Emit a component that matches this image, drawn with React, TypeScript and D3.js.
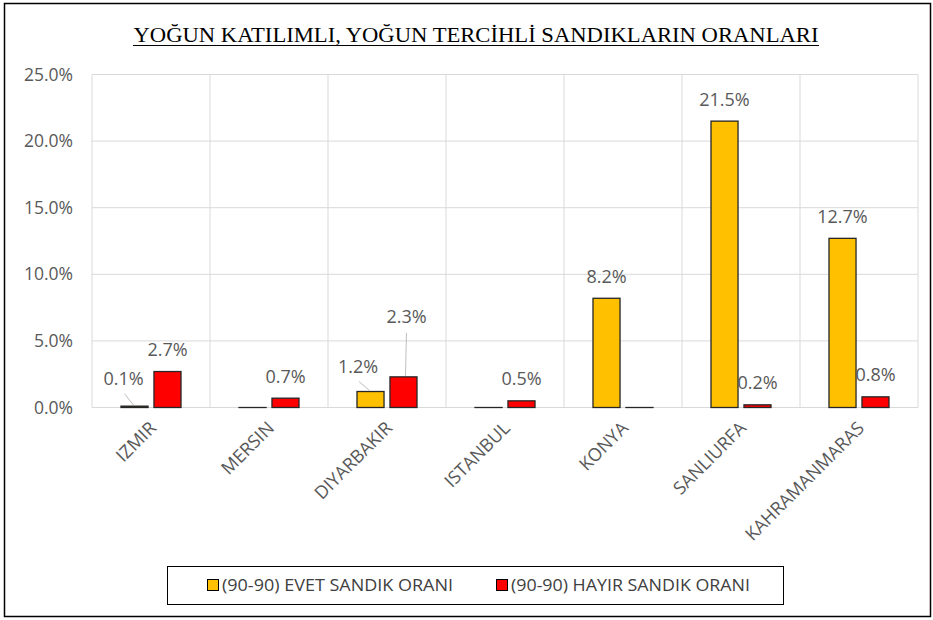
import React from "react";
import * as d3 from "d3";

const categories = ["IZMIR", "MERSIN", "DIYARBAKIR", "ISTANBUL", "KONYA", "SANLIURFA", "KAHRAMANMARAS"];
const evetValues = [0.1, 0.0, 1.2, 0.0, 8.2, 21.5, 12.7];
const hayirValues = [2.7, 0.7, 2.3, 0.5, 0.0, 0.2, 0.8];
const seriesNames = ["(90-90) EVET SANDIK ORANI", "(90-90) HAYIR SANDIK ORANI"];
const seriesColors = ["#FFC000", "#FF0000"];
const yTicks = [0, 5, 10, 15, 20, 25];
const title = "YOĞUN KATILIMLI, YOĞUN TERCİHLİ SANDIKLARIN ORANLARI";

// label adjustments (series index, category index) -> dx, dy and leader line
const labelAdjust: Record<string, { dx: number; dy: number; leader?: boolean }> = {
  "0-0": { dx: -11, dy: -5.5, leader: true },
  "0-2": { dx: -12.5, dy: -3, leader: true },
  "1-2": { dx: 3, dy: -38.5, leader: true },
};

const W = 933;
const H = 620;
const FONT = "'Open Sans', 'Noto Sans', sans-serif";

export default function App() {
  const x = d3.scaleBand<string>().domain(categories).range([92, 918]).padding(0);
  const cw = x.bandwidth();
  const inner = d3
    .scaleBand<number>()
    .domain([0, 1])
    .range([29, cw - 29])
    .paddingInner(0.18)
    .paddingOuter(0);
  const y = d3.scaleLinear().domain([0, 25]).range([407.5, 74.5]);
  const series = [evetValues, hayirValues];

  return (
    <svg
      width={W}
      height={H}
      style={{ position: "absolute", left: 0, top: 0, background: "#fff" }}
    >
      <rect x={4.5} y={3.5} width={926} height={613} fill="#fff" stroke="#000" strokeWidth={1.5} />
      {/* title */}
      <text
        x={476}
        y={42}
        textAnchor="middle"
        fontFamily="'Liberation Serif', 'Times New Roman', serif"
        fontSize={21}
        textLength={685}
        lengthAdjust="spacingAndGlyphs"
        fill="#000"
      >
        {title}
      </text>
      <line x1={133} x2={819} y1={45.5} y2={45.5} stroke="#000" strokeWidth={1.2} />

      {/* horizontal gridlines */}
      {yTicks.map((t) => (
        <line key={"h" + t} x1={92} x2={918} y1={y(t)} y2={y(t)} stroke="#d9d9d9" strokeWidth={1} />
      ))}
      {/* vertical gridlines */}
      {categories.map((c) => (
        <line key={"v" + c} x1={x(c)!} x2={x(c)!} y1={y(25)} y2={y(0)} stroke="#d9d9d9" strokeWidth={1} />
      ))}
      <line x1={918} x2={918} y1={y(25)} y2={y(0)} stroke="#d9d9d9" strokeWidth={1} />

      {/* y tick labels */}
      {yTicks.map((t) => (
        <text
          key={"yt" + t}
          x={73}
          y={y(t) + 6}
          textAnchor="end"
          fontFamily={FONT}
          fontSize={17.5}
          fill="#595959"
        >
          {d3.format(".1f")(t) + "%"}
        </text>
      ))}

      {/* bars */}
      {series.map((vals, si) =>
        categories.map((c, ci) => {
          const v = vals[ci];
          const bx = x(c)! + inner(si)!;
          const by = y(v);
          const h = Math.max(y(0) - by, 0.01);
          return (
            <rect
              key={"b" + si + c}
              x={bx}
              y={by}
              width={inner.bandwidth()}
              height={h}
              fill={seriesColors[si]}
              stroke="#262626"
              strokeWidth={1.3}
            />
          );
        })
      )}

      {/* data labels */}
      {series.map((vals, si) =>
        categories.map((c, ci) => {
          const v = vals[ci];
          if (v <= 0) return null;
          const cx = x(c)! + inner(si)! + inner.bandwidth() / 2;
          const top = y(v);
          const adj = labelAdjust[si + "-" + ci] || { dx: 0, dy: 0 };
          const lx = cx + adj.dx;
          const ly = top - 15.5 + adj.dy;
          return (
            <g key={"l" + si + c}>
              {adj.leader && (
                <line
                  x1={si === 1 ? lx : lx + 1}
                  y1={si === 1 ? ly + 10 : ly + 8.5}
                  x2={si === 1 ? cx + 2 : cx - 1}
                  y2={top - 1}
                  stroke="#bfbfbf"
                  strokeWidth={1}
                />
              )}
              <text
                x={lx}
                y={ly}
                textAnchor="middle"
                fontFamily={FONT}
                fontSize={18}
                fill="#595959"
              >
                {d3.format(".1f")(v) + "%"}
              </text>
            </g>
          );
        })
      )}

      {/* x labels */}
      {categories.map((c) => {
        const cx = x(c)! + cw / 2 + 2;
        const cy = 425;
        return (
          <text
            key={"xl" + c}
            transform={`translate(${cx},${cy}) rotate(-45)`}
            textAnchor="end"
            dy={6}
            fontFamily={FONT}
            fontSize={18}
            fill="#595959"
          >
            {c}
          </text>
        );
      })}

      {/* legend */}
      <rect x={167.5} y={566.5} width={616} height={38} fill="#fff" stroke="#000" strokeWidth={1} />
      {seriesNames.map((n, i) => {
        const lx = [207, 496][i];
        return (
          <g key={"lg" + i}>
            <rect x={lx + 0.5} y={579.5} width={11} height={11} fill={seriesColors[i]} stroke="#000" strokeWidth={1} />
            <text
              x={lx + 15}
              y={591}
              fontFamily={FONT}
              fontSize={16}
              fill="#404040"
              textLength={[231, 239][i]}
              lengthAdjust="spacingAndGlyphs"
            >
              {n}
            </text>
          </g>
        );
      })}
    </svg>
  );
}
